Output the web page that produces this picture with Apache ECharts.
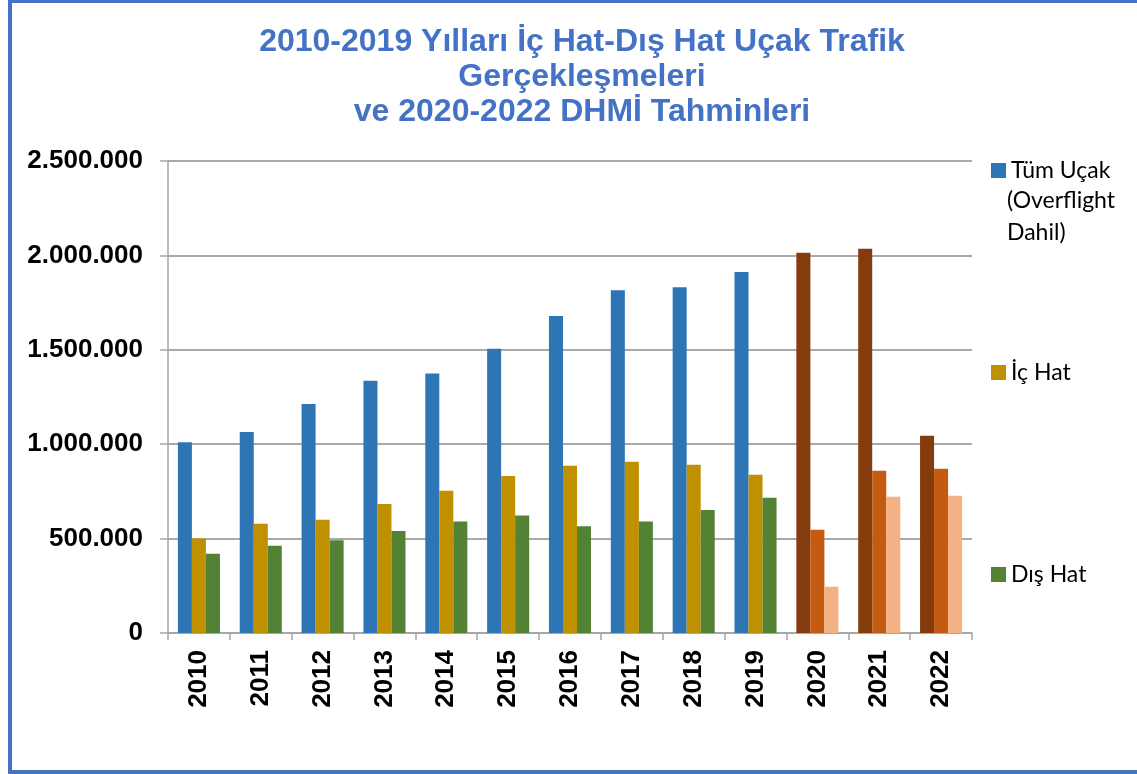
<!DOCTYPE html>
<html>
<head>
<meta charset="utf-8">
<script src="https://cdn.jsdelivr.net/npm/echarts@6/dist/echarts.min.js"></script>
<style>
  html, body { margin: 0; padding: 0; background: #fff; }
  .frame {
    position: absolute; left: 8px; top: 0; width: 1129px; height: 774px;
    box-sizing: border-box;
    border-left: 4px solid #4472C4; border-top: 3px solid #4472C4; border-bottom: 4px solid #4472C4;
  }
  .grafik { position: absolute; left: 0; top: 0; width: 1137px; height: 774px; }
</style>
</head>
<body>
<div class="frame"></div>
<div class="grafik"></div>
<script>
var yillar = ['2010', '2011', '2012', '2013', '2014', '2015', '2016', '2017', '2018', '2019', '2020', '2021', '2022'];
var tumUcak = [1010000, 1065000, 1213000, 1336000, 1375000, 1506000, 1679000, 1815000, 1831000, 1912000, 2014000, 2035000, 1045000];
var icHat = [500000, 579000, 600000, 683000, 754000, 831000, 886000, 907000, 891000, 838000, 547000, 860000, 870000];
var disHat = [420000, 462000, 491000, 540000, 591000, 623000, 565000, 591000, 651000, 717000, 245000, 722000, 727000];

// 2020-2022 tahmin yillari farkli renkte
var tahminBasi = 10;
function boya(arr, renk) {
    return arr.map(function (v, i) {
        return i >= tahminBasi ? { value: v, itemStyle: { color: renk } } : v;
    });
}

var noktali = function (v) {
    return String(v).replace(/\B(?=(\d{3})+(?!\d))/g, '.');
};

var legendText = { fontFamily: 'Lato', fontSize: 23, color: '#000' };

option = {
    animation: false,
    title: {
        text: '2010-2019 Yılları İç Hat-Dış Hat Uçak Trafik\nGerçekleşmeleri\nve 2020-2022 DHMİ Tahminleri',
        left: 577,
        top: 20,
        textAlign: 'center',
        textStyle: {
            fontFamily: 'Liberation Sans',
            fontWeight: 'bold',
            fontSize: 32,
            lineHeight: 35,
            color: '#4472C4'
        }
    },
    legend: [
        { data: ['Tüm Uçak'], icon: 'rect', left: 986, top: 154, itemWidth: 15, itemHeight: 15, textStyle: legendText },
        { data: ['İç Hat'], icon: 'rect', left: 986, top: 356, itemWidth: 15, itemHeight: 15, textStyle: legendText },
        { data: ['Dış Hat'], icon: 'rect', left: 986, top: 558, itemWidth: 15, itemHeight: 15, textStyle: legendText }
    ],
    graphic: [{
        type: 'text',
        left: 1007,
        top: 185,
        style: { text: '(Overflight\nDahil)', font: '23px Lato', lineHeight: 32, fill: '#000' }
    }],
    grid: { left: 168, right: 165, top: 161, bottom: 141 },
    xAxis: {
        type: 'category',
        data: yillar,
        axisLine: { lineStyle: { color: '#A6A6A6', width: 1.5 } },
        axisTick: { show: true, length: 7, lineStyle: { color: '#A6A6A6', width: 1.5 } },
        axisLabel: {
            rotate: 90,
            margin: 17,
            fontFamily: 'Liberation Sans',
            fontWeight: 'bold',
            fontSize: 26,
            color: '#000'
        }
    },
    yAxis: {
        type: 'value',
        min: 0,
        max: 2500000,
        interval: 500000,
        axisLine: { show: true, lineStyle: { color: '#A6A6A6', width: 1.5 } },
        axisTick: { show: true, length: 8, lineStyle: { color: '#A6A6A6', width: 1.5 } },
        splitLine: { lineStyle: { color: '#8C8C8C', width: 1.5 } },
        axisLabel: {
            margin: 25,
            formatter: noktali,
            fontFamily: 'Liberation Sans',
            fontWeight: 'bold',
            fontSize: 26,
            color: '#000'
        }
    },
    series: [
        { name: 'Tüm Uçak', type: 'bar', barGap: 0, barCategoryGap: '32%', itemStyle: { color: '#2E75B6' }, data: boya(tumUcak, '#843C0C') },
        { name: 'İç Hat', type: 'bar', barGap: 0, barCategoryGap: '32%', itemStyle: { color: '#BF9000' }, data: boya(icHat, '#C55A11') },
        { name: 'Dış Hat', type: 'bar', barGap: 0, barCategoryGap: '32%', itemStyle: { color: '#548235' }, data: boya(disHat, '#F4B183') }
    ]
};
var myecharts = echarts.init(document.querySelector('.grafik'));
myecharts.setOption(option);
</script>
</body>
</html>
